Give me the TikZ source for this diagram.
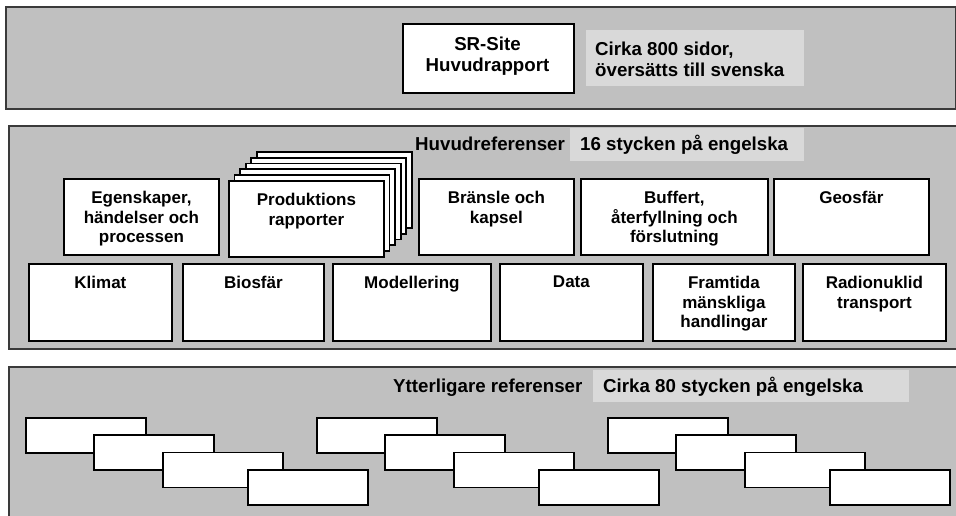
\documentclass[tikz,border=0pt]{standalone}
\usepackage{fontspec}
\setmainfont{Liberation Sans}
\definecolor{panelgray}{HTML}{C0C0C0}
\definecolor{labelgray}{HTML}{D9D9D9}
\definecolor{paneledge}{HTML}{3A3A3A}
\tikzset{
  panel/.style={draw=paneledge, line width=1.5pt, fill=panelgray},
  wbox/.style={draw=black, line width=1.8pt, fill=white, inner sep=0pt, anchor=north west},
  btext/.style={font=\fontsize{17}{19.5}\selectfont\bfseries, align=center, inner sep=0pt, anchor=north},
  ltext/.style={font=\fontsize{18.7}{21.6}\selectfont\bfseries, inner sep=0pt},
  gbox/.style={fill=labelgray, inner sep=0pt, anchor=north west},
  smallbox/.style={wbox, minimum width=120pt, minimum height=35pt},
}
\begin{document}
\begin{tikzpicture}[x=1pt,y=-1pt]
\useasboundingbox (0,0) rectangle (956,515);
% panels
\node[panel, anchor=north west, minimum width=950pt, minimum height=102pt, inner sep=0pt] (p1) at (5,6) {};
\node[panel, anchor=north west, minimum width=960pt, minimum height=223pt, inner sep=0pt] (p2) at (8,125) {};
\node[panel, anchor=north west, minimum width=960pt, minimum height=170pt, inner sep=0pt] (p3) at (8,366) {};
% top panel
\node[wbox, minimum width=171pt, minimum height=69pt] (sr) at (402,23) {};
\node[ltext, align=center, anchor=north] (srt) at (487.5,36.3) {SR-Site\\Huvudrapport};
\node[gbox, minimum width=218pt, minimum height=56pt] (g1) at (586,30) {};
\node[ltext, align=left, anchor=north west] (g1t) at (595,41.5) {Cirka 800 sidor,\\översätts till svenska};
% middle panel labels
\node[ltext, anchor=base west] (hr) at (415,150.7) {Huvudreferenser};
\node[gbox, minimum width=234pt, minimum height=33pt] (g2) at (570,128) {};
\node[ltext, anchor=base west] (g2t) at (580,150.7) {16 stycken på engelska};
% stack of production reports
\foreach \k in {5,4,3,2,1} {
  \node[wbox, minimum width=155pt, minimum height=76pt] (pr\k) at (228+5.6*\k,180-5.8*\k) {};
}
\node[wbox, minimum width=155pt, minimum height=76pt] (prod) at (228,180) {};
\node[btext] (prodt) at ([yshift=-13]prod.north) {Produktions\\rapporter};
% row 1
\node[wbox, minimum width=155pt, minimum height=76pt] (egen) at (63,178) {};
\node[btext] (egent) at ([yshift=-13]egen.north) {Egenskaper,\\händelser och\\processen};
\node[wbox, minimum width=155pt, minimum height=76pt] (bran) at (418,178) {};
\node[btext] (brant) at ([yshift=-13]bran.north) {Bränsle och\\kapsel};
\node[wbox, minimum width=187pt, minimum height=76pt] (buff) at (580,178) {};
\node[btext] (bufft) at ([yshift=-13]buff.north) {Buffert,\\återfyllning och\\förslutning};
\node[wbox, minimum width=155pt, minimum height=76pt] (geo) at (773,178) {};
\node[btext] (geot) at ([yshift=-13]geo.north) {Geosfär};
% row 2
\node[wbox, minimum width=143pt, minimum height=77pt] (klim) at (28,263) {};
\node[btext] (klimt) at ([yshift=-13]klim.north) {Klimat};
\node[wbox, minimum width=141pt, minimum height=77pt] (bio) at (182,263) {};
\node[btext] (biot) at ([yshift=-13]bio.north) {Biosfär};
\node[wbox, minimum width=158pt, minimum height=77pt] (mod) at (332,263) {};
\node[btext] (modt) at ([yshift=-13]mod.north) {Modellering};
\node[wbox, minimum width=143pt, minimum height=77pt] (data) at (499,263) {};
\node[btext] (datat) at ([yshift=-13]data.north) {Data};
\node[wbox, minimum width=142pt, minimum height=77pt] (fram) at (652,263) {};
\node[btext] (framt) at ([yshift=-13]fram.north) {Framtida\\mänskliga\\handlingar};
\node[wbox, minimum width=143pt, minimum height=77pt] (rad) at (802,263) {};
\node[btext] (radt) at ([yshift=-13]rad.north) {Radionuklid\\transport};
% bottom panel
\node[ltext, anchor=base west] (yr) at (393,392) {Ytterligare referenser};
\node[gbox, minimum width=316pt, minimum height=32pt] (g3) at (593,370) {};
\node[ltext, anchor=base west] (g3t) at (603,392) {Cirka 80 stycken på engelska};
\foreach \g/\gx in {a/25,b/316,c/607} {
  \node[smallbox] (\g1) at (\gx,417) {};
  \node[smallbox] (\g2) at (\gx+68,434.3) {};
  \node[smallbox] (\g3) at (\gx+137,451.6) {};
  \node[smallbox] (\g4) at (\gx+222,469) {};
}
\end{tikzpicture}
\end{document}
